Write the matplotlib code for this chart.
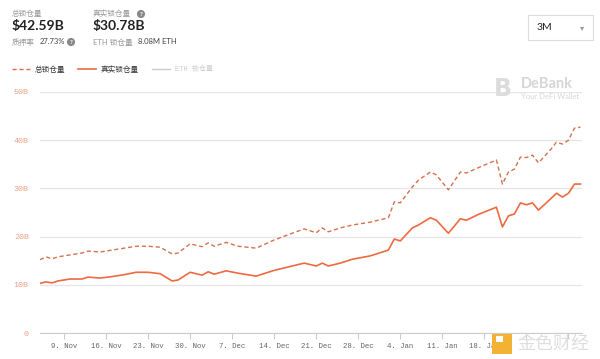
import matplotlib
matplotlib.use("Agg")
import matplotlib.pyplot as plt
import matplotlib.dates as mdates
from matplotlib.lines import Line2D
from matplotlib.patches import Rectangle, FancyBboxPatch
import pandas as pd

plt.rcParams['font.family'] = ['Lato', 'Noto Sans CJK SC', 'DejaVu Sans']

# day offsets from 5 Nov 2020 and values (billion USD)
day_offset = [0, 1, 2, 3, 5, 7, 8, 10, 12, 14, 16, 18, 20, 22, 23, 25, 27, 28, 29, 31,
              33, 36, 39, 42, 44, 46, 47, 48, 50, 52, 55, 58, 59, 60, 62, 63, 65, 66,
              68, 70, 71, 73, 76, 77, 78, 79, 80, 81, 82, 83, 85, 86, 87, 88, 89, 90]
total_locked = [15.2, 15.8, 15.4, 15.8, 16.2, 16.6, 17.0, 16.8, 17.2, 17.6, 18.0, 18.0,
                17.8, 16.4, 16.6, 18.5, 17.9, 18.7, 18.0, 18.8, 18.0, 17.6, 19.3, 20.7,
                21.6, 20.8, 21.8, 21.0, 21.8, 22.4, 23.0, 23.9, 27.2, 27.0, 30.3, 31.7,
                33.4, 32.8, 29.7, 33.4, 33.2, 34.3, 35.9, 30.9, 33.4, 34.0, 36.5, 36.4,
                36.9, 35.3, 38.0, 39.6, 39.2, 40.0, 42.5, 42.7]
real_locked = [10.3, 10.6, 10.4, 10.8, 11.2, 11.2, 11.6, 11.4, 11.7, 12.1, 12.6, 12.6,
               12.3, 10.8, 11.0, 12.6, 12.0, 12.7, 12.2, 12.9, 12.4, 11.8, 13.0, 13.9,
               14.5, 13.9, 14.5, 13.9, 14.5, 15.3, 16.0, 17.2, 19.5, 19.1, 21.8, 22.4,
               23.9, 23.4, 20.7, 23.7, 23.4, 24.6, 26.1, 22.0, 24.3, 24.7, 27.0, 26.6,
               27.0, 25.5, 27.8, 29.0, 28.2, 29.0, 30.9, 30.9]
y_ticks = [0, 10, 20, 30, 40, 50]
y_tick_labels = ['0', '10B', '20B', '30B', '40B', '50B']

dates = pd.Timestamp('2020-11-05') + pd.to_timedelta(day_offset, unit='D')

W, H = 600, 359
fig = plt.figure(figsize=(6, 3.59), dpi=100)


def fx(px):
    return px / W


def fy(py):
    return 1 - py / H


ax = fig.add_axes([fx(40), fy(333), fx(582) - fx(40), fy(92) - fy(333)])

dash_color = '#d4714f'
solid_color = '#ee6a42'
ax.plot(dates, total_locked, color=dash_color, lw=1.0, ls=(0, (3, 2)))
ax.plot(dates, real_locked, color=solid_color, lw=1.2)

ax.set_ylim(0, 50)
ax.set_xlim(pd.Timestamp('2020-11-05'), pd.Timestamp('2021-02-03 06:00'))
ax.set_yticks(y_ticks)
ax.set_yticklabels(y_tick_labels)
ax.grid(axis='y', color='#e6e6e6', lw=0.9)
ax.set_axisbelow(True)
for s in ['top', 'right', 'left']:
    ax.spines[s].set_visible(False)
ax.spines['bottom'].set_color('#cccccc')
ax.tick_params(axis='y', length=0, pad=8, labelsize=6, labelcolor='#e9a286')
ax.tick_params(axis='x', length=4, color='#cccccc', pad=3, labelsize=5.3, labelcolor='#666666')
for lbl in ax.get_yticklabels() + ax.get_xticklabels():
    lbl.set_family('Liberation Mono')

# labels after 18 Jan sit under the watermark in the original, so leave them blank
hide_after = mdates.date2num(pd.Timestamp('2021-01-20'))


def week_label(v, p):
    if v > hide_after:
        return ''
    d = mdates.num2date(v)
    return f"{d.day}. {d:%b}"


ax.xaxis.set_major_locator(mdates.WeekdayLocator(byweekday=mdates.MO))
ax.xaxis.set_major_formatter(plt.FuncFormatter(week_label))

# header
gray = '#999999'
dark = '#222222'
fig.text(fx(12), fy(13), '总锁仓量', fontsize=5.5, color=gray, va='center')
fig.text(fx(12), fy(26), '$42.59B', fontsize=10, color=dark, va='center', weight='bold')
fig.text(fx(12), fy(42), '质押率', fontsize=5.5, color=gray, va='center')
fig.text(fx(40), fy(42), '27.73%', fontsize=5.5, color='#444444', va='center')
fig.text(fx(93), fy(13), '真实锁仓量', fontsize=5.5, color=gray, va='center')
fig.text(fx(93), fy(26), '$30.78B', fontsize=10, color=dark, va='center', weight='bold')
fig.text(fx(93), fy(42), 'ETH 锁仓量', fontsize=5.5, color=gray, va='center')
fig.text(fx(138), fy(42), '8.08M ETH', fontsize=5.5, color='#444444', va='center')
for qx, qy in [(71, 42), (141, 14)]:
    fig.text(fx(qx), fy(qy), '?', fontsize=4.5, color='white', ha='center', va='center',
             weight='bold', bbox=dict(boxstyle='circle,pad=0.25', fc='#888888', ec='none'))

# dropdown
fig.add_artist(FancyBboxPatch((fx(528), fy(40)), fx(65), fy(15) - fy(40),
                              boxstyle='square,pad=0', transform=fig.transFigure,
                              fc='white', ec='#dddddd', lw=0.8))
fig.text(fx(537), fy(28), '3M', fontsize=7.5, color=dark, va='center')
fig.text(fx(582), fy(28), '▾', fontsize=6, color='#999999', va='center', ha='center',
         family='DejaVu Sans')

# legend
ly = fy(69)
fig.add_artist(Line2D([fx(12), fx(30)], [ly, ly], color=dash_color, lw=1.0, ls=(0, (3, 2))))
fig.text(fx(35), ly, '总锁仓量', fontsize=5.5, color='#333333', va='center')
fig.add_artist(Line2D([fx(78), fx(96)], [ly, ly], color=solid_color, lw=1.2))
fig.text(fx(101), ly, '真实锁仓量', fontsize=5.5, color='#333333', va='center')
fig.add_artist(Line2D([fx(152), fx(170)], [ly, ly], color='#cccccc', lw=1.0))
fig.text(fx(175), ly, 'ETH 锁仓量', fontsize=5, color='#cccccc', va='center',
         family=['Liberation Mono', 'Noto Sans CJK SC'])

# DeBank watermark
fig.text(fx(503), fy(89), 'B', fontsize=17, color='#dcdcdc', ha='center', va='center',
         weight='bold', family='DejaVu Sans')
fig.text(fx(521), fy(84), 'DeBank', fontsize=10.5, color='#d6d6d6', va='center', weight='bold')
fig.text(fx(521), fy(97), 'Your DeFi Wallet', fontsize=5.5, color='#d6d6d6', va='center')

# 金色财经 watermark
fig.add_artist(Rectangle((fx(492), fy(354)), fx(20), fy(334) - fy(354),
                         transform=fig.transFigure, fc='#f2b233', ec='none'))
fig.add_artist(Rectangle((fx(496), fy(342)), fx(7), fy(336) - fy(342),
                         transform=fig.transFigure, fc='#ffffff', ec='none'))
fig.text(fx(553), fy(344), '金色财经', fontsize=13, color='#dedede', ha='center', va='center',
         family='Noto Sans CJK SC')

fig.savefig('out.png', dpi=100)
